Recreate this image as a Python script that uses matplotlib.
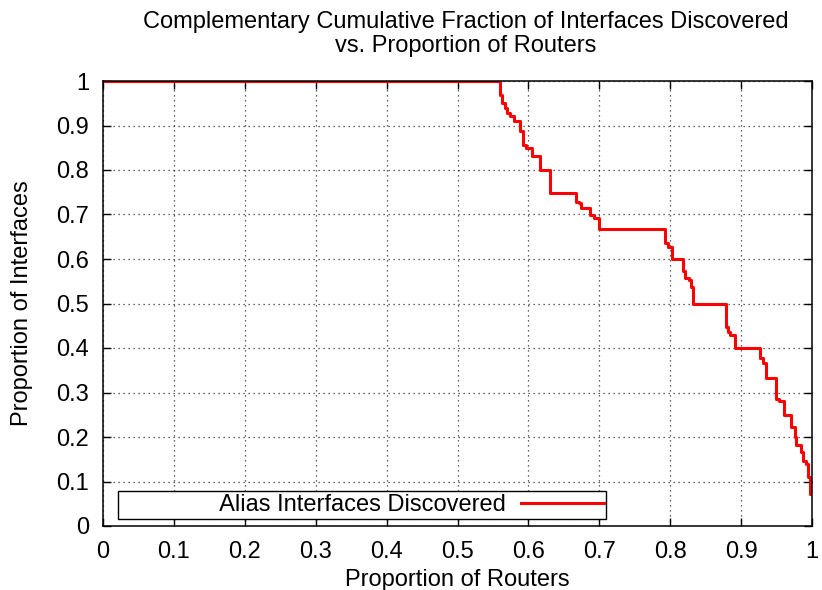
import numpy as np
import matplotlib.pyplot as plt

# Puntos de la curva escalonada (proporcion de routers, proporcion de interfaces)
routers = [0.0, 0.560, 0.563, 0.567, 0.570, 0.574, 0.580, 0.588, 0.593, 0.597,
           0.605, 0.616, 0.631, 0.667, 0.671, 0.674, 0.687, 0.693, 0.699, 0.793,
           0.797, 0.803, 0.818, 0.821, 0.826, 0.829, 0.832, 0.879, 0.882, 0.885,
           0.891, 0.927, 0.931, 0.935, 0.949, 0.953, 0.960, 0.971, 0.976, 0.978,
           0.985, 0.988, 0.991, 0.995, 0.997, 0.999]
interfaces = [1.0, 0.969, 0.950, 0.939, 0.928, 0.921, 0.910, 0.888, 0.856, 0.850,
              0.832, 0.800, 0.749, 0.729, 0.725, 0.715, 0.700, 0.693, 0.667, 0.637,
              0.628, 0.600, 0.574, 0.557, 0.553, 0.536, 0.500, 0.448, 0.437, 0.429,
              0.400, 0.377, 0.366, 0.333, 0.285, 0.280, 0.250, 0.223, 0.200, 0.182,
              0.167, 0.145, 0.140, 0.111, 0.073, 0.073]

xticks = np.arange(0, 1.01, 0.1)
yticks = np.arange(0, 1.01, 0.1)
tick_labels = ['0', '0.1', '0.2', '0.3', '0.4', '0.5', '0.6', '0.7', '0.8', '0.9', '1']

plt.rcParams['font.family'] = ['Liberation Sans', 'DejaVu Sans']
plt.rcParams['font.size'] = 17

fig = plt.figure(figsize=(8.22, 5.90), dpi=100)
ax = fig.add_axes([103/822, 1 - 526/590, 709/822, 445/590])

ax.plot(routers, interfaces, color='red', lw=2.2, drawstyle='steps-post',
        label='               Alias Interfaces Discovered')

ax.set_xlim(0, 1)
ax.set_ylim(0, 1)
ax.set_xticks(xticks)
ax.set_yticks(yticks)
ax.set_xticklabels(tick_labels)
ax.set_yticklabels(tick_labels)
ax.tick_params(axis='x', direction='in', length=5.5, width=1, top=True, pad=11)
ax.tick_params(axis='y', direction='in', length=5.5, width=1, right=True, pad=10)
ax.grid(True, color='black', linestyle=(0, (1, 3)), lw=0.9, alpha=0.8)
for s in ax.spines.values():
    s.set_linewidth(1.1)

ax.set_xlabel('Proportion of Routers', labelpad=4)
ax.set_ylabel('Proportion of Interfaces', labelpad=17)

fig.text(466/822, 1 - 11/590,
         'Complementary Cumulative Fraction of Interfaces Discovered\nvs. Proportion of Routers',
         ha='center', va='top', linespacing=1.12)

ax.legend(loc='lower left', bbox_to_anchor=(0.021, 0.0157), markerfirst=False,
          fancybox=False, edgecolor='black', framealpha=1, handlelength=3.5,
          borderpad=0.12, handletextpad=0.65, borderaxespad=0)

plt.savefig('out.png', dpi=100)
